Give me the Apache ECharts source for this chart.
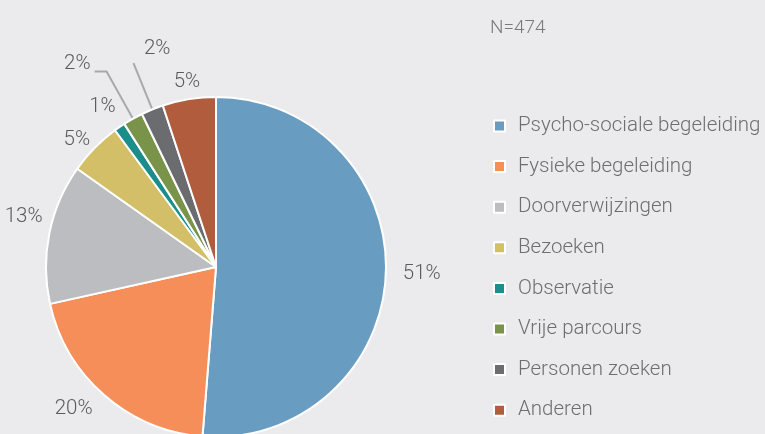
<!DOCTYPE html>
<html>
<head>
<meta charset="utf-8">
<script src="https://cdn.jsdelivr.net/npm/echarts@6/dist/echarts.min.js"></script>
<style>
  html, body { margin: 0; padding: 0; background: #ebebed; }
  #chart { width: 765px; height: 434px; }
</style>
</head>
<body>
<div id="chart"></div>
<script>
var categories = ['Psycho-sociale begeleiding', 'Fysieke begeleiding', 'Doorverwijzingen',
    'Bezoeken', 'Observatie', 'Vrije parcours', 'Personen zoeken', 'Anderen'];
var values = [243, 96, 63, 24, 5, 9, 10, 24];
var colorList = ['#689dc1', '#f58e59', '#bcbdc0', '#d2bf67', '#1b8d8b', '#799349', '#6b6c70', '#b05c3d'];
var totalLabel = 'N=474';

var fontName = 'Roboto';

// small nudges so the labels sit where the original has them
var labelOffsets = {
    'Fysieke begeleiding': [1, 5],
    'Doorverwijzingen': [10, -14],
    'Bezoeken': [9, 0],
    'Observatie': [8, -10],
    'Vrije parcours': [1, -8],
    'Personen zoeken': [42, -14],
    'Anderen': [18, -5]
};

function getData() {
    var data = [];
    for (var i = 0; i < categories.length; i++) {
        var item = { name: categories[i], value: values[i] };
        // the two small slices get a visible leader line
        if (categories[i] === 'Vrije parcours') {
            item.labelLine = { show: true, length: 54, length2: 12 };
        } else if (categories[i] === 'Personen zoeken') {
            item.labelLine = { show: true, length: 50, length2: 0 };
        }
        if (labelOffsets[categories[i]]) {
            item.label = { offset: labelOffsets[categories[i]] };
        }
        data.push(item);
    }
    return data;
}

var option = {
    backgroundColor: '#ebebed',
    color: colorList,
    title: {
        text: totalLabel,
        left: 485,
        top: 14,
        textStyle: {
            fontFamily: fontName,
            fontWeight: 300,
            fontSize: 19,
            color: '#7a7a7c'
        }
    },
    legend: {
        orient: 'vertical',
        left: 488,
        top: 110,
        icon: 'rect',
        itemWidth: 11,
        itemHeight: 11,
        itemGap: 18.6,
        data: categories,
        textStyle: {
            fontFamily: fontName,
            fontWeight: 300,
            fontSize: 20.5,
            lineHeight: 22,
            color: '#6e6e70',
            padding: [0, 0, 0, 8]
        }
    },
    series: [{
        type: 'pie',
        center: [216, 267],
        radius: 170,
        startAngle: 90,
        clockwise: true,
        avoidLabelOverlap: false,
        itemStyle: {
            borderColor: '#fff',
            borderWidth: 2
        },
        label: {
            show: true,
            position: 'outside',
            formatter: function (p) {
                return Math.round(p.percent) + '%';
            },
            fontFamily: fontName,
            fontWeight: 300,
            fontSize: 20.5,
            color: '#5c5c5e'
        },
        labelLine: {
            show: false,
            length: 12,
            length2: 0,
            lineStyle: { color: '#a8a9ab', width: 2 }
        },
        emphasis: { scale: false },
        data: getData()
    }]
};

var myChart = echarts.init(document.getElementById('chart'));
myChart.setOption(option);
</script>
</body>
</html>
